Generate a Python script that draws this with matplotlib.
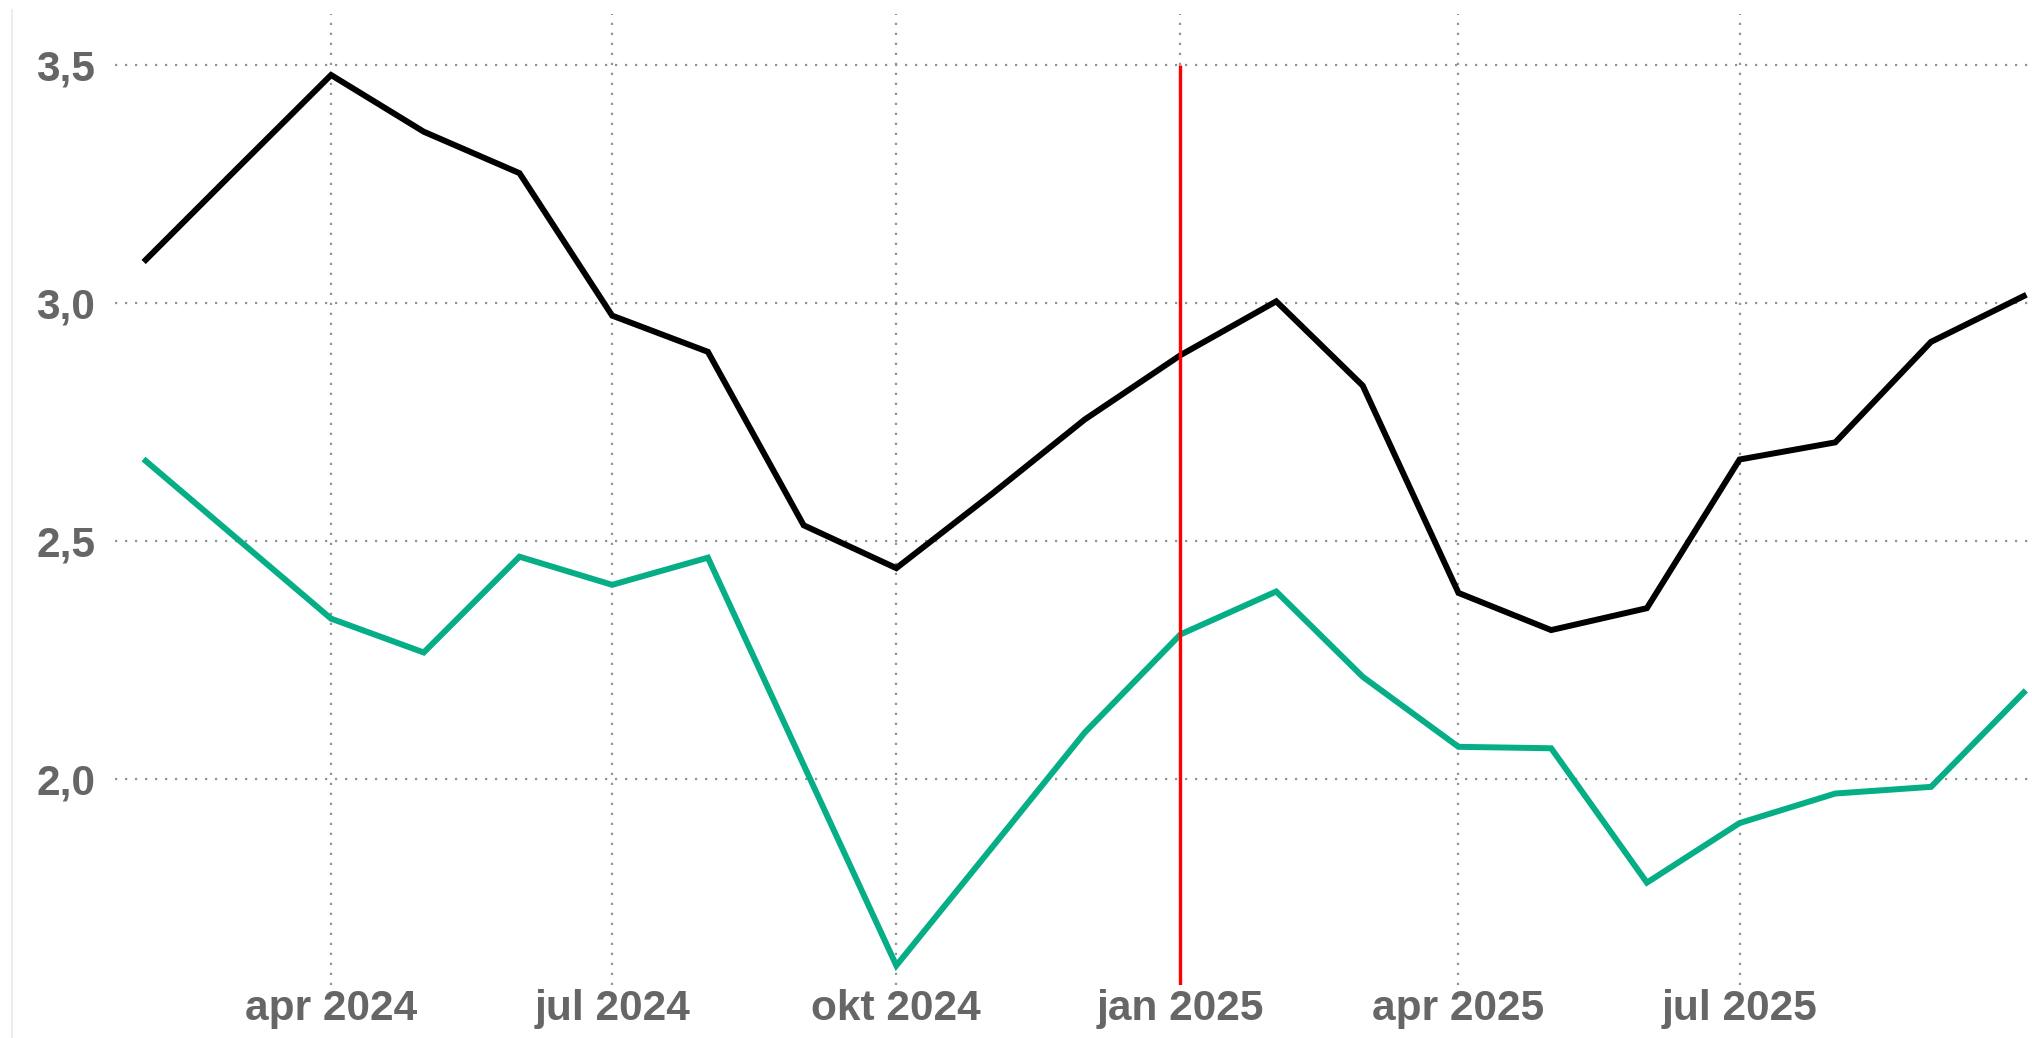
import matplotlib
matplotlib.use("Agg")
import matplotlib.pyplot as plt
from matplotlib.lines import Line2D
import pandas as pd

# monthly values, Feb 2024 - Oct 2025
months = pd.date_range("2024-02-01", "2025-10-01", freq="MS")
black_vals = [3.09, 3.278, 3.478, 3.359, 3.272, 2.973, 2.897, 2.533, 2.443, 2.599,
              2.755, 2.89, 3.003, 2.826, 2.391, 2.313, 2.359, 2.671, 2.707, 2.918, 3.014]
green_vals = [2.668, 2.508, 2.337, 2.266, 2.467, 2.408, 2.465, 2.03, 1.609, 1.857,
              2.098, 2.304, 2.394, 2.215, 2.068, 2.065, 1.783, 1.908, 1.970, 1.984, 2.182]
marker_date = pd.Timestamp("2025-01-01")
y_ticks = [2.0, 2.5, 3.0, 3.5]
x_ticks = pd.to_datetime(["2024-04-01", "2024-07-01", "2024-10-01",
                          "2025-01-01", "2025-04-01", "2025-07-01"])
x_labels = ["apr 2024", "jul 2024", "okt 2024", "jan 2025", "apr 2025", "jul 2025"]

plt.rcParams['font.family'] = ['Liberation Sans', 'DejaVu Sans']

fig = plt.figure(figsize=(20.33, 10.38), dpi=100)
ax = fig.add_axes([0.0565, 0.051, 0.9435, 0.9355])

ymin, ymax = 1.568, 3.606
ax.plot(months, black_vals, color='black', lw=4.3, solid_joinstyle='miter', zorder=3)
ax.plot(months, green_vals, color='#06ae86', lw=4.3, solid_joinstyle='miter', zorder=3)
ax.vlines(marker_date, ymin, 3.5, color='#ff0000', lw=2.4, zorder=4)

ax.set_xlim(pd.Timestamp("2024-01-22"), pd.Timestamp("2025-10-04"))
ax.set_ylim(ymin, ymax)

ax.set_yticks(y_ticks)
ax.set_yticklabels([f"{v:.1f}".replace('.', ',') for v in y_ticks])
ax.set_xticks(x_ticks)
ax.set_xticklabels(x_labels)

for lab in ax.get_xticklabels() + ax.get_yticklabels():
    lab.set_fontweight('bold')
    lab.set_fontsize(30.5)
    lab.set_color('#666666')

ax.tick_params(axis='both', length=0)
ax.tick_params(axis='y', pad=14)
ax.tick_params(axis='x', pad=3)

ax.grid(True, color='#8f9595', lw=1.6, linestyle=(0, (1, 3.5)))
ax.set_axisbelow(True)
for s in ax.spines.values():
    s.set_visible(False)

# faint edge line at the left of the picture
fig.add_artist(Line2D([0.006, 0.006], [0.0, 0.99], transform=fig.transFigure,
                      color='#e8eeee', lw=1.5))

fig.savefig("out.png", dpi=100)
